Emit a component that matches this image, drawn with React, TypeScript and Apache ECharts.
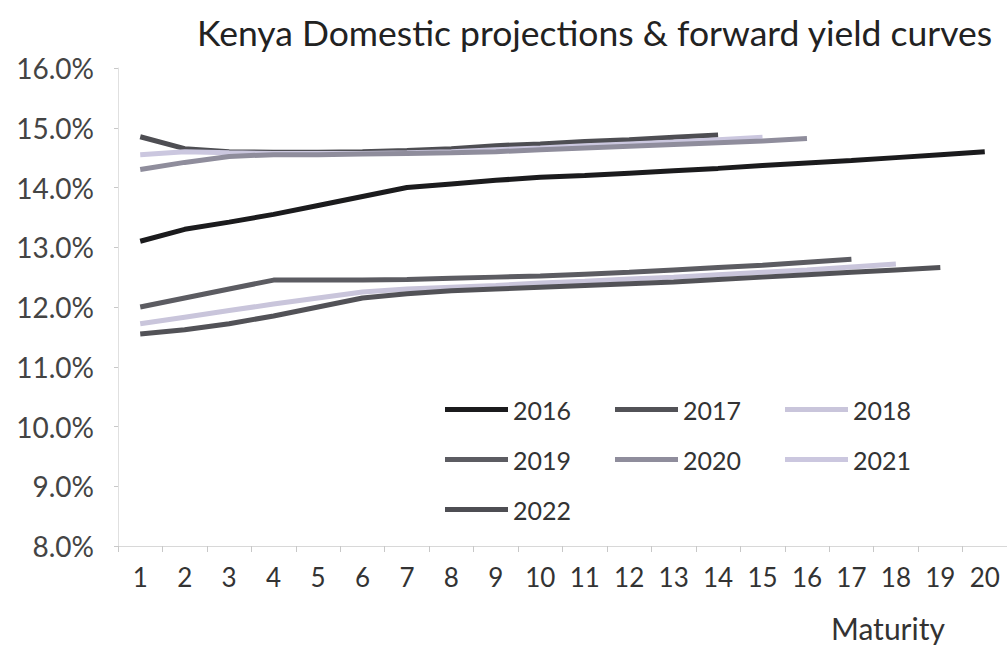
import React, { useEffect, useRef } from "react";
import * as echarts from "echarts";

const maturities = ["1","2","3","4","5","6","7","8","9","10","11","12","13","14","15","16","17","18","19","20"];
const yTicks = [8, 9, 10, 11, 12, 13, 14, 15, 16];

const y2016 = [13.1, 13.3, 13.42, 13.55, 13.7, 13.85, 14.0, 14.06, 14.12, 14.17, 14.2, 14.24, 14.28, 14.32, 14.37, 14.41, 14.45, 14.5, 14.55, 14.6];
const y2017 = [11.55, 11.62, 11.72, 11.85, 12.0, 12.15, 12.22, 12.27, 12.3, 12.33, 12.36, 12.39, 12.42, 12.46, 12.5, 12.54, 12.58, 12.62, 12.66];
const y2018 = [11.72, 11.83, 11.94, 12.05, 12.15, 12.25, 12.3, 12.33, 12.36, 12.4, 12.43, 12.47, 12.5, 12.54, 12.58, 12.62, 12.67, 12.72];
const y2019 = [12.0, 12.15, 12.3, 12.45, 12.45, 12.45, 12.46, 12.48, 12.5, 12.52, 12.55, 12.58, 12.62, 12.66, 12.7, 12.75, 12.8];
const y2020 = [14.3, 14.42, 14.52, 14.55, 14.55, 14.56, 14.57, 14.58, 14.6, 14.63, 14.66, 14.69, 14.72, 14.75, 14.78, 14.82];
const y2021 = [14.55, 14.6, 14.58, 14.57, 14.57, 14.57, 14.58, 14.6, 14.63, 14.66, 14.7, 14.73, 14.76, 14.8, 14.84];
const y2022 = [14.85, 14.65, 14.6, 14.59, 14.59, 14.6, 14.62, 14.65, 14.7, 14.73, 14.77, 14.8, 14.84, 14.88];

const seriesNames = ["2016", "2017", "2018", "2019", "2020", "2021", "2022"];
const seriesData = [y2016, y2017, y2018, y2019, y2020, y2021, y2022];
const seriesColors = ["#1b1b1d", "#525257", "#c9c5db", "#5c5c62", "#8f8d9c", "#cbc7df", "#4e4e53"];

const FONT = "Lato";

export default function App() {
  const ref = useRef<HTMLDivElement>(null);
  useEffect(() => {
    if (!ref.current) return;
    const chart = echarts.init(ref.current, null, { renderer: "svg" });
    const legendRow = (names: string[], top: number) => ({
      top,
      left: 440,
      orient: "horizontal",
      itemWidth: 63,
      itemHeight: 5,
      itemGap: 44,
      icon: "rect",
      data: names,
      textStyle: { fontFamily: FONT, fontSize: 25, color: "#333", padding: [0, 0, 0, 0] },
    });
    chart.setOption({
      animation: false,
      backgroundColor: "#ffffff",
      title: {
        text: "Kenya Domestic projections & forward yield curves",
        left: 192,
        top: 9,
        textStyle: { fontFamily: FONT, fontSize: 35.5, fontWeight: "normal", color: "#222" },
      },
      legend: [
        legendRow(["2016", "2017", "2018"], 392),
        legendRow(["2019", "2020", "2021"], 442),
        legendRow(["2022"], 492),
      ],
      grid: { left: 118, right: 0, top: 68, bottom: 103, containLabel: false },
      xAxis: {
        type: "category",
        data: maturities,
        boundaryGap: true,
        axisLine: { lineStyle: { color: "#d8d8d8", width: 1 } },
        axisTick: { show: true, alignWithLabel: false, length: 6, lineStyle: { color: "#c8c8c8" } },
        axisLabel: { fontFamily: FONT, fontSize: 26, color: "#333", margin: 18 },
      },
      yAxis: {
        type: "value",
        min: yTicks[0],
        max: yTicks[yTicks.length - 1],
        interval: 1,
        axisLine: { show: true, lineStyle: { color: "#e0e0e0" } },
        axisTick: { show: true, length: 4, lineStyle: { color: "#c8c8c8" } },
        splitLine: { show: false },
        axisLabel: {
          fontFamily: FONT,
          fontSize: 28,
          color: "#444",
          margin: 24,
          formatter: (v: number) => v.toFixed(1) + "%",
        },
      },
      graphic: [
        {
          type: "text",
          left: 831,
          top: 613,
          style: { text: "Maturity", fontFamily: FONT, fontSize: 30, fill: "#333" },
        },
      ],
      series: seriesNames.map((name, i) => ({
        name,
        type: "line",
        data: seriesData[i],
        showSymbol: false,
        symbol: "none",
        smooth: false,
        color: seriesColors[i],
        lineStyle: { color: seriesColors[i], width: 5 },
        z: i === 0 ? 10 : 7 - i,
      })),
    });
    return () => chart.dispose();
  }, []);
  return (
    <div
      ref={ref}
      style={{ position: "fixed", left: 0, top: 0, width: 1007, height: 649, background: "#fff" }}
    />
  );
}
